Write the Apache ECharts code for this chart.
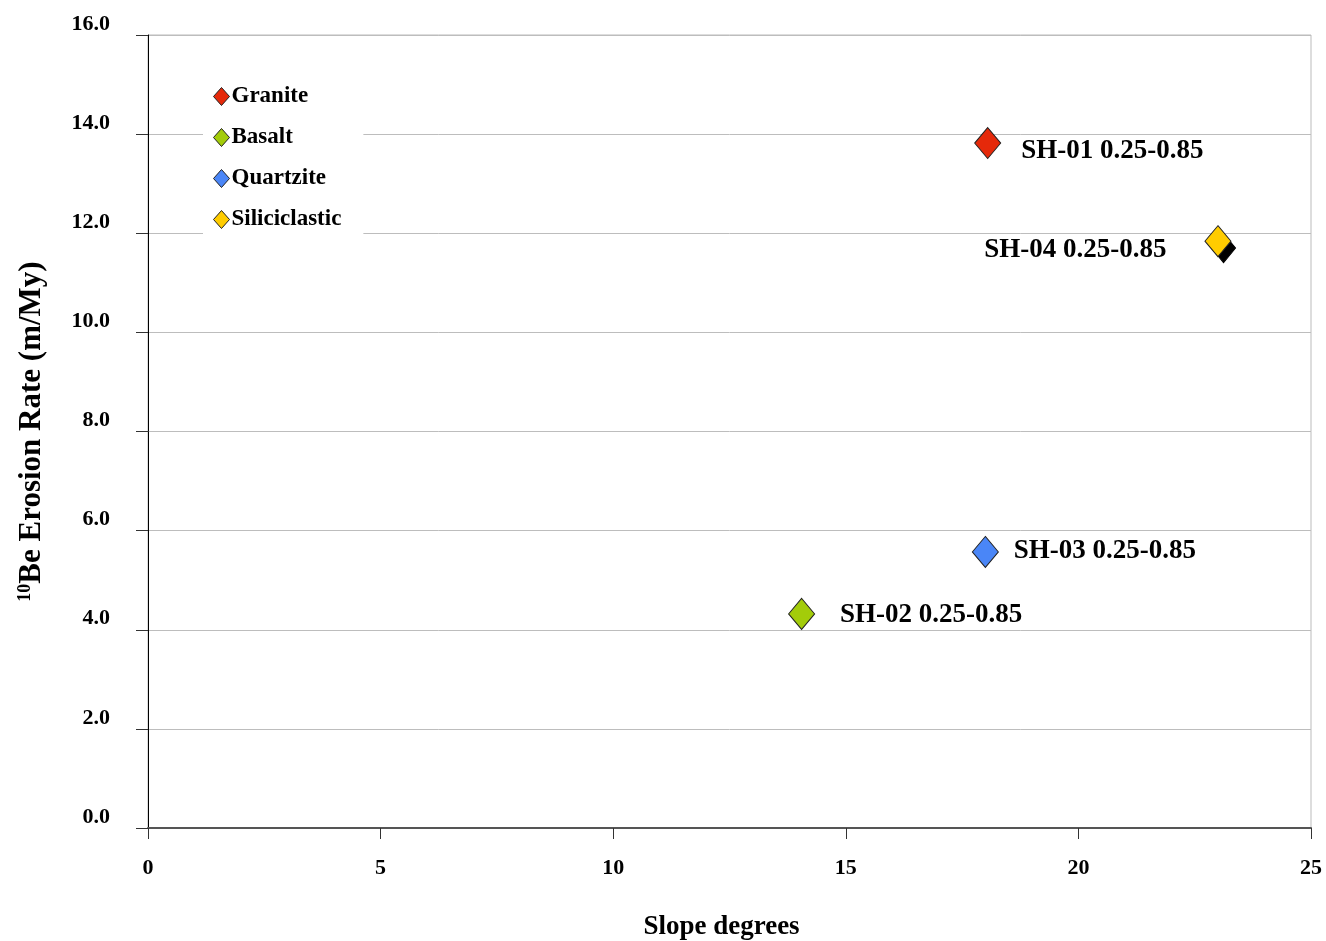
<!DOCTYPE html>
<html>
<head>
<meta charset="utf-8">
<script src="https://cdn.jsdelivr.net/npm/echarts@6/dist/echarts.min.js"></script>
<style>
  html, body { margin: 0; padding: 0; background: #fff; }
  #chart { width: 1326px; height: 941px; }
</style>
</head>
<body>
<div id="chart"></div>
<script>
// rock types and their samples
var rockNames = ['Granite', 'Basalt', 'Quartzite', 'Siliciclastic'];
var rockColors = ['#e5290a', '#a3cc0a', '#4a86f7', '#ffcc00'];
var slopeDeg = [18.05, 14.05, 18.0, 23.0];
var erosionRate = [13.82, 4.32, 5.57, 11.84];
var sampleLabels = ['SH-01 0.25-0.85', 'SH-02 0.25-0.85', 'SH-03 0.25-0.85', 'SH-04 0.25-0.85'];
// black point hidden behind the siliciclastic one
var hiddenPoint = [23.12, 11.7];

var xTicks = { min: 0, max: 25, step: 5 };
var yTicks = { min: 0, max: 16, step: 2 };

var font = '"Liberation Serif", "Times New Roman", serif';
var labelPos = ['right', 'right', 'right', 'left'];
var labelDist = [20, 25, 15, 38];
var labelOff = [[0, 8], [0, 1], [0, -1], [0, 9]];

var chart = echarts.init(document.getElementById('chart'));

var series = [{
    name: 'hidden',
    type: 'scatter',
    symbol: 'diamond',
    symbolSize: [24, 29],
    itemStyle: { color: '#000', borderColor: '#000', borderWidth: 1, opacity: 1 },
    data: [hiddenPoint],
    z: 2
}];
rockNames.forEach(function (name, i) {
    series.push({
        name: name,
        type: 'scatter',
        symbol: 'diamond',
        symbolSize: [26, 31],
        itemStyle: { color: rockColors[i], borderColor: '#222', borderWidth: 1, opacity: 1 },
        label: {
            show: true,
            position: labelPos[i],
            distance: labelDist[i],
            offset: labelOff[i],
            formatter: sampleLabels[i],
            fontFamily: font,
            fontWeight: 'bold',
            fontSize: 27,
            color: '#000'
        },
        data: [[slopeDeg[i], erosionRate[i]]],
        z: 3
    });
});

var option = {
    backgroundColor: '#fff',
    animation: false,
    grid: {
        left: 148,
        right: 15,
        top: 35,
        bottom: 113,
        outerBoundsMode: 'none',
        containLabel: false,
        show: true,
        borderColor: '#bbb',
        borderWidth: 1
    },
    legend: {
        data: rockNames,
        orient: 'vertical',
        left: 203,
        top: 76,
        backgroundColor: '#fff',
        itemWidth: 16,
        itemHeight: 18,
        itemGap: 18,
        padding: [9, 22, 10, 10],
        itemStyle: { borderColor: '#222', borderWidth: 1 },
        textStyle: {
            fontFamily: font,
            fontWeight: 'bold',
            fontSize: 23,
            color: '#000',
            padding: [0, 0, 0, -3]
        },
        z: 10
    },
    xAxis: {
        type: 'value',
        min: xTicks.min,
        max: xTicks.max,
        interval: xTicks.step,
        name: 'Slope degrees',
        nameLocation: 'middle',
        nameGap: 86,
        nameTextStyle: { fontFamily: font, fontWeight: 'bold', fontSize: 27, color: '#000', padding: [0, 16, 0, 0] },
        axisLine: { show: true, onZero: false, lineStyle: { color: '#555', width: 2 } },
        axisTick: { show: true, length: 11, lineStyle: { color: '#333' } },
        axisLabel: { margin: 29, fontFamily: font, fontWeight: 'bold', fontSize: 22, color: '#000' },
        splitLine: { show: false }
    },
    yAxis: {
        type: 'value',
        min: yTicks.min,
        max: yTicks.max,
        interval: yTicks.step,
        name: '{sup|10}Be Erosion Rate (m/My)',
        nameLocation: 'middle',
        nameGap: 101,
        nameRotate: 90,
        nameTextStyle: {
            fontFamily: font, fontWeight: 'bold', fontSize: 31, color: '#000',
            rich: {
                sup: { fontFamily: font, fontWeight: 'bold', fontSize: 18, verticalAlign: 'top', padding: [0, 0, 12, 0] }
            }
        },
        axisLine: { show: true, onZero: false, lineStyle: { color: '#000', width: 1 } },
        axisTick: { show: true, length: 12, lineStyle: { color: '#333' } },
        axisLabel: {
            margin: 38,
            verticalAlign: 'bottom',
            fontFamily: font,
            fontWeight: 'bold',
            fontSize: 22,
            color: '#000',
            formatter: function (v) { return v.toFixed(1); }
        },
        splitLine: { show: true, lineStyle: { color: '#bdbdbd', width: 1 } }
    },
    series: series
};

chart.setOption(option);
</script>
</body>
</html>
